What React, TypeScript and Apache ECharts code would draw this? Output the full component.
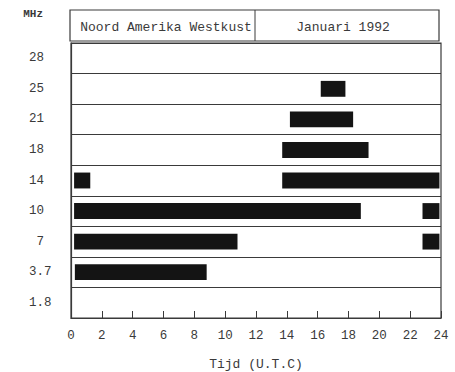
import React, { useEffect, useRef } from "react";
import * as echarts from "echarts";

const categories = ["1.8", "3.7", "7", "10", "14", "18", "21", "25", "28"];
const hourTicks = [0, 2, 4, 6, 8, 10, 12, 14, 16, 18, 20, 22, 24];
const barBands = ["25", "21", "18", "14", "14", "10", "10", "7", "7", "3.7"];
const barStarts = [16.2, 14.2, 13.7, 0.2, 13.7, 0.2, 22.8, 0.2, 22.8, 0.25];
const barEnds = [17.8, 18.3, 19.3, 1.25, 23.9, 18.8, 23.9, 10.8, 23.9, 8.8];
const headerLeft = "Noord Amerika Westkust";
const headerRight = "Januari 1992";
const xTitle = "Tijd (U.T.C)";
const yTitle = "MHz";

const FONT = "'Liberation Mono', 'DejaVu Sans Mono', monospace";
const INK = "#3a3a3a";

export default function App() {
  const ref = useRef<HTMLDivElement>(null);
  useEffect(() => {
    if (!ref.current) return;
    const chart = echarts.init(ref.current, null, { renderer: "svg" });
    const data = barBands.map((b, i) => [barStarts[i], barEnds[i], categories.indexOf(b)]);
    chart.setOption({
      animation: false,
      backgroundColor: "#ffffff",
      grid: {
        left: 71,
        right: 14,
        top: 43,
        bottom: 54,
        containLabel: false,
        outerBoundsMode: "none",
        show: true,
        borderColor: INK,
        borderWidth: 1.2,
      },
      xAxis: {
        type: "value",
        min: 0,
        max: 24,
        interval: 2,
        name: xTitle,
        nameLocation: "middle",
        nameGap: 40,
        nameTextStyle: { fontFamily: FONT, fontSize: 13, color: INK },
        axisLine: { show: true, lineStyle: { color: INK, width: 1.2 } },
        axisTick: { show: true, inside: true, length: 7, lineStyle: { color: INK } },
        axisLabel: {
          fontFamily: FONT,
          fontSize: 12.5,
          color: INK,
          margin: 11,
          formatter: (v: number) => (hourTicks.includes(v) ? String(v) : ""),
        },
        splitLine: { show: false },
      },
      yAxis: {
        type: "category",
        data: categories,
        axisLine: { show: true, lineStyle: { color: INK, width: 1.2 } },
        axisTick: { show: false },
        axisLabel: {
          fontFamily: FONT,
          fontSize: 12.5,
          color: INK,
          align: "left",
          margin: 42,
          padding: [6, 0, 0, 0],
          formatter: (v: string) => (v.length === 1 ? "\u00a0" + v : v),
        },
        splitLine: { show: true, lineStyle: { color: INK, width: 1.2 } },
      },
      graphic: [
        {
          type: "rect",
          shape: { x: 70, y: 10, width: 369, height: 31 },
          style: { fill: "#ffffff", stroke: INK, lineWidth: 1.2 },
        },
        {
          type: "line",
          shape: { x1: 255, y1: 10, x2: 255, y2: 41 },
          style: { stroke: INK, lineWidth: 1 },
        },
        {
          type: "text",
          x: 166,
          y: 27,
          style: {
            text: headerLeft,
            font: `13px ${FONT}`,
            fill: INK,
            align: "center",
            verticalAlign: "middle",
          },
        },
        {
          type: "text",
          x: 343,
          y: 27,
          style: {
            text: headerRight,
            font: `13px ${FONT}`,
            fill: INK,
            align: "center",
            verticalAlign: "middle",
          },
        },
        {
          type: "text",
          x: 43,
          y: 14,
          style: {
            text: yTitle,
            font: `bold 11px ${FONT}`,
            fill: INK,
            align: "right",
            verticalAlign: "middle",
          },
        },
      ],
      series: [
        {
          type: "custom",
          data,
          encode: { x: [0, 1], y: 2 },
          renderItem: (params: any, api: any) => {
            const start = api.coord([api.value(0), api.value(2)]);
            const end = api.coord([api.value(1), api.value(2)]);
            const h = api.size([0, 1])[1] * 0.52;
            return {
              type: "rect",
              shape: { x: start[0], y: start[1] - h / 2, width: end[0] - start[0], height: h },
              style: { fill: "#141414" },
            };
          },
        },
      ],
    });
    return () => chart.dispose();
  }, []);
  return (
    <div
      ref={ref}
      style={{ position: "absolute", left: 0, top: 0, width: 455, height: 372 }}
    />
  );
}
